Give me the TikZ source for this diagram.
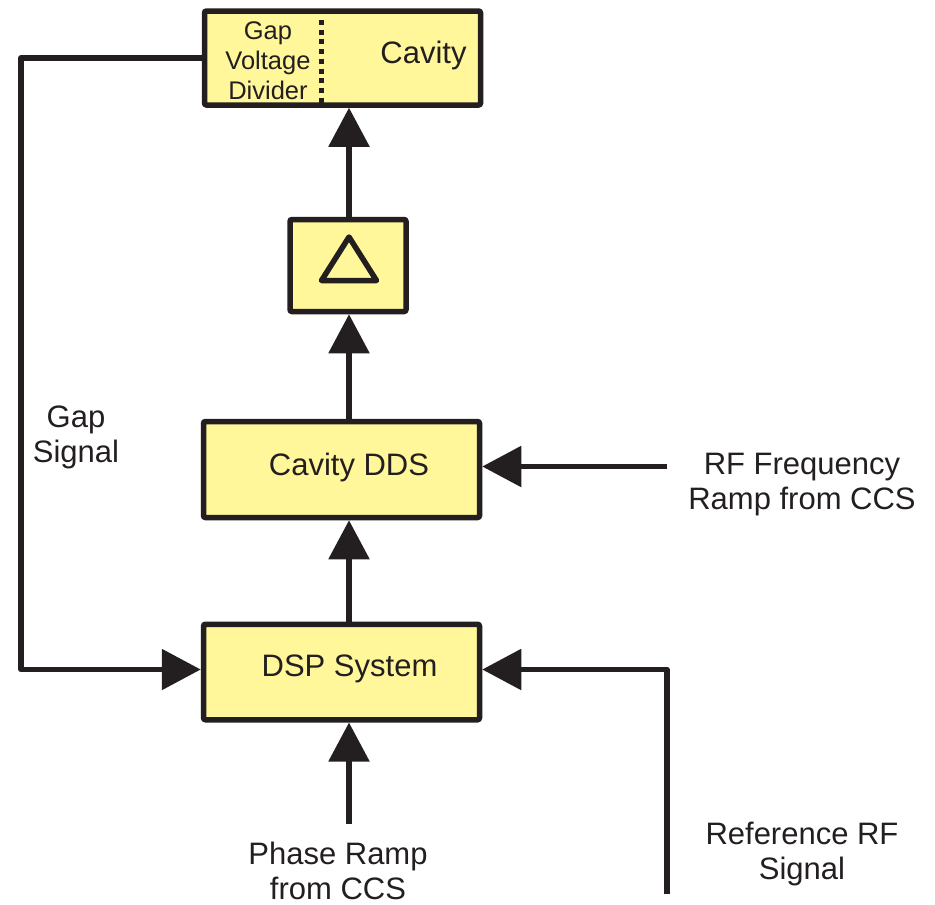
\documentclass[tikz,border=0pt]{standalone}
\usepackage{fontspec}
\setmainfont{Liberation Sans}
\usetikzlibrary{arrows.meta,calc}
\definecolor{boxfill}{RGB}{255,247,153}
\definecolor{ink}{RGB}{35,31,32}
\tikzset{
  blockbox/.style={draw=ink, fill=boxfill, line width=5.5pt, rounded corners=2pt, inner sep=0pt},
  conn/.style={draw=ink, line width=5.5pt, line join=round},
  arr/.style={conn, -{Triangle[length=39pt,width=40pt]}},
  lbl/.style={text=ink, align=center, inner sep=0pt, font=\fontsize{31}{35}\selectfont},
  smalllbl/.style={text=ink, align=center, inner sep=0pt, font=\fontsize{25.5}{30}\selectfont}
}
\begin{document}
\begin{tikzpicture}[x=1pt,y=1pt]
\useasboundingbox (0,0) rectangle (935,-905);
% boxes
\node[blockbox, minimum width=276pt, minimum height=94pt] (cav) at (342.5,-58) {};
\node[blockbox, minimum width=116pt, minimum height=92pt] (tri) at (348,-265.5) {};
\node[blockbox, minimum width=276pt, minimum height=96pt] (dds) at (341.5,-469.5) {};
\node[blockbox, minimum width=276pt, minimum height=95.5pt] (dsp) at (341.5,-672) {};
% box contents
\node[smalllbl] (gvd) at (268,-61) {Gap\\Voltage\\Divider};
\node[lbl] (cavtxt) at (423.5,-55) {Cavity};
\draw[draw=ink, line width=5pt, dash pattern=on 5pt off 4.7pt] (321,-20) -- (321,-104);
\draw[draw=ink, line width=5.5pt, line join=round] (349,-237) -- (376.5,-280.5) -- (321.5,-280.5) -- cycle;
\node[lbl] (ddstxt) at (349,-467) {Cavity DDS};
\node[lbl] (dsptxt) at (349.5,-669) {DSP System};
% external labels
\node[lbl] (gaplbl) at (76,-437) {Gap\\Signal};
\node[lbl] (rflbl) at (802,-485) {RF Frequency\\Ramp from CCS};
\node[lbl] (phaselbl) at (338,-871) {Phase Ramp\\from CCS};
\node[lbl] (reflbl) at (802,-854) {Reference RF\\Signal};
% coordinates
\coordinate (vx) at (349,0);
\coordinate (gl) at (21,-669.5);
\coordinate (phs) at (349,-824);
\coordinate (rfs) at (667,-466.5);
\coordinate (refs) at (667,-894);
% connectors
\draw[arr] (tri.north -| vx) -- (cav.south -| vx);
\draw[arr] (dds.north -| vx) -- (tri.south -| vx);
\draw[arr] (dsp.north -| vx) -- (dds.south -| vx);
\draw[arr] (phs) -- (dsp.south -| phs);
\draw[arr] (rfs) -- (dds.east |- rfs);
\draw[arr] (refs) |- (dsp.east |- gl);
\draw[arr] (cav.west) -| (gl) -- (dsp.west |- gl);
\end{tikzpicture}
\end{document}
